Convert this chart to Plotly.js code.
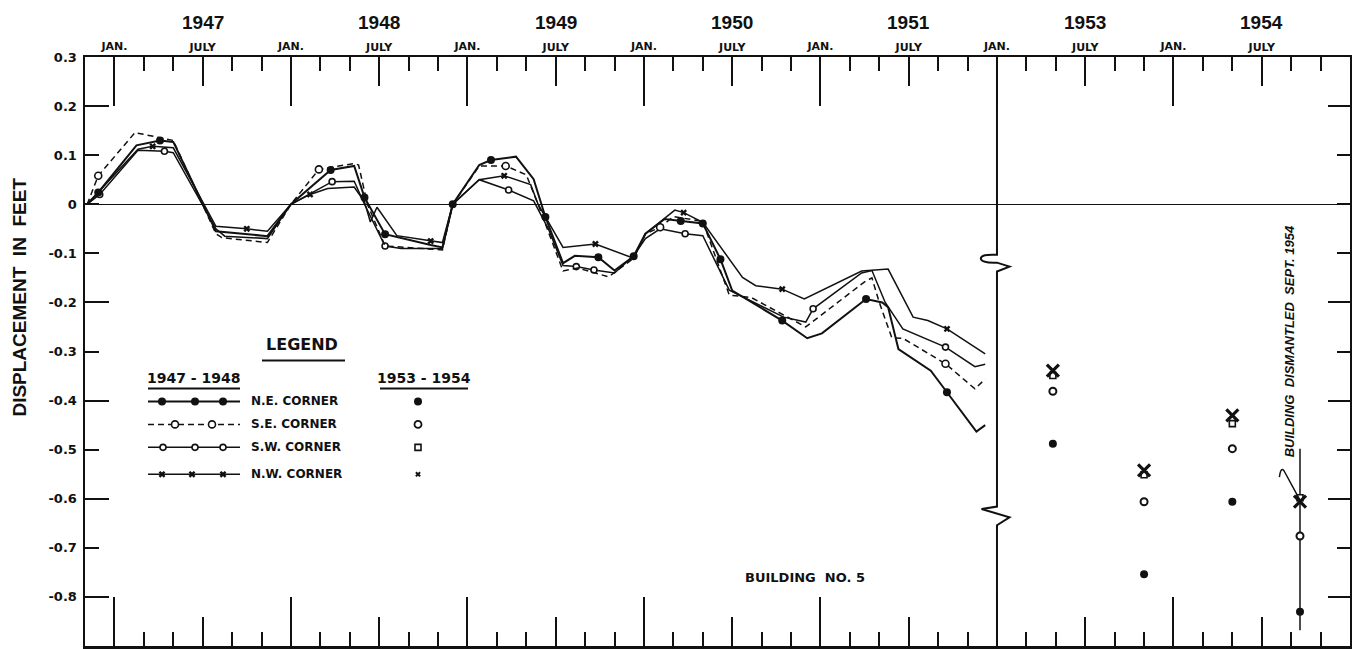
<!DOCTYPE html>
<html>
<head>
<meta charset="utf-8">
<script src="https://cdn.plot.ly/plotly-3.0.1.min.js"></script>
<style>html,body{margin:0;padding:0;background:#fff;}#chart{width:1352px;height:649px;}</style>
</head>
<body>
<div id="chart"></div>
<script>
// ---------- DATA (months since Jan 1947; value = displacement in feet) ----------
const neMonths = [-1.85,-1.1,1.5,3.1,4.0,6.9,10.4,12.0,14.7,16.3,17.0,18.4,21.5,22.3,23.0,24.8,25.6,27.3,28.5,29.3,30.5,31.3,32.9,34.0,35.3,36.1,37.4,38.5,40.0,41.2,42.0,45.4,47.1,48.1,51.1,52.2,52.6,53.3,55.5,56.6,58.6,59.2];
const neValues = [0,0.024,0.12,0.13,0.127,-0.055,-0.065,0,0.07,0.078,0.014,-0.061,-0.083,-0.088,0,0.08,0.09,0.097,0.051,-0.026,-0.12,-0.105,-0.108,-0.135,-0.106,-0.06,-0.03,-0.034,-0.039,-0.112,-0.176,-0.237,-0.273,-0.263,-0.193,-0.2,-0.21,-0.295,-0.339,-0.383,-0.463,-0.45];
const neMarked = [-1.1,3.1,14.7,17.0,18.4,23.0,25.6,29.3,32.9,35.3,38.5,40.0,41.2,45.4,51.1,56.6];

const seMonths = [-1.85,-1.1,1.4,3.0,4.0,6.9,7.3,10.4,12.0,13.9,16.3,16.6,17.2,18.4,22.3,23.0,24.8,26.6,28.0,28.8,30.5,31.5,33.6,35.3,36.1,37.1,38.0,40.0,41.8,43.3,47.0,51.0,51.5,52.0,52.85,53.6,56.5,58.5,59.2];
const seValues = [0,0.058,0.146,0.136,0.13,-0.06,-0.068,-0.078,0,0.071,0.083,0.08,0.0,-0.085,-0.093,0,0.078,0.078,0.06,0,-0.136,-0.13,-0.148,-0.11,-0.06,-0.047,-0.025,-0.035,-0.185,-0.19,-0.25,-0.158,-0.15,-0.2,-0.272,-0.273,-0.325,-0.376,-0.356];
const seMarked = [-1.1,13.9,26.6,37.1,56.5];

const swMonths = [-1.85,-1.0,1.6,3.4,4.0,6.9,7.5,10.4,12.0,14.8,16.3,17.0,18.4,19.5,22.3,23.0,24.8,26.8,28.5,29.5,30.5,31.4,32.6,34.0,35.3,36.1,37.1,38.8,40.0,41.8,45.5,47.0,47.5,50.8,51.5,52.4,53.6,56.5,58.5,59.2];
const swValues = [0,0.02,0.11,0.108,0.105,-0.05,-0.065,-0.07,0,0.046,0.047,0,-0.085,-0.09,-0.09,0,0.05,0.029,0.007,-0.05,-0.125,-0.127,-0.134,-0.14,-0.105,-0.07,-0.05,-0.06,-0.064,-0.175,-0.23,-0.24,-0.213,-0.14,-0.135,-0.2,-0.254,-0.291,-0.331,-0.326];
const swMarked = [-1.0,3.4,14.8,18.4,26.8,31.4,32.6,38.8,47.5,56.5];

const nwMonths = [-1.85,1.6,2.6,4.0,6.9,9.0,10.4,12.0,13.3,14.5,16.3,17.0,17.4,17.85,19.2,21.5,22.3,23.0,24.8,26.5,28.3,28.8,30.5,32.7,34.5,35.3,36.1,38.1,38.7,40.0,42.7,43.6,45.4,46.9,50.8,52.6,54.3,55.3,56.6,59.2];
const nwValues = [0,0.112,0.118,0.115,-0.045,-0.05,-0.055,0,0.02,0.032,0.035,0.005,-0.036,-0.006,-0.064,-0.075,-0.078,0,0.05,0.058,0.04,0,-0.088,-0.081,-0.1,-0.11,-0.06,-0.012,-0.017,-0.037,-0.149,-0.166,-0.173,-0.193,-0.136,-0.132,-0.23,-0.237,-0.254,-0.305];
const nwMarked = [2.6,9.0,13.3,21.5,26.5,32.7,38.7,45.4,56.6];

// 1953-1954 survey points (actual months since Jan 1947)
const months5354 = [75.8, 82.0, 88.0, 92.6];
const ne5354 = [-0.488,-0.754,-0.606,-0.83];
const se5354 = [-0.381,-0.606,-0.498,-0.676];
const sw5354 = [-0.349,-0.551,-0.447,-0.598];
const nw5354 = [-0.339,-0.542,-0.43,-0.606];

const yearLabels = [1947,1948,1949,1950,1951,1953,1954];
const yTickVals = [0.3,0.2,0.1,0,-0.1,-0.2,-0.3,-0.4,-0.5,-0.6,-0.7,-0.8,-0.9];
const yTickText = ["0.3","0.2","0.1","0","-0.1","-0.2","-0.3","-0.4","-0.5","-0.6","-0.7","-0.8","-0.9"];
const cornerNames = ["N.E. CORNER","S.E. CORNER","S.W. CORNER","N.W. CORNER"];

// ---------- helpers ----------
const GAP = 12;             // year 1952 omitted from the axis
const plotX = m => (m >= 72 ? m - GAP : m);
const INK = '#111';
const X_RANGE = [-2, 84];
const Y_RANGE = [-0.9, 0.3];
const janTicks = [], julTicks = [];
for (let m = 0; m < 84; m += 12) { janTicks.push(m); julTicks.push(m + 6); }
const longY = [0.2,-0.2,-0.4,-0.6,-0.8];

const styles = {
  ne: {line:{color:INK,width:2}, marker:{symbol:'circle',size:8,color:INK,line:{width:0}}},
  se: {line:{color:INK,width:1.5,dash:'6px,4px'}, marker:{symbol:'circle',size:7,color:'#fff',line:{width:1.6,color:INK}}},
  sw: {line:{color:INK,width:1.5}, marker:{symbol:'circle',size:6,color:'#fff',line:{width:1.6,color:INK}}},
  nw: {line:{color:INK,width:1.5}, marker:{symbol:'x',size:6,color:INK,line:{width:0}}}
};

function series(months, values, marked, st) {
  const on = months.map(m => marked.includes(m));
  return {
    x: months.map(plotX), y: values, type:'scatter', mode:'lines+markers',
    line: st.line,
    marker: Object.assign({}, st.marker, {
      size: on.map(b => b ? st.marker.size : 0),
      opacity: on.map(b => b ? 1 : 0)
    }),
    hoverinfo:'skip', showlegend:false, cliponaxis:false
  };
}

const traces = [
  series(swMonths, swValues, swMarked, styles.sw),
  series(nwMonths, nwValues, nwMarked, styles.nw),
  series(seMonths, seValues, seMarked, styles.se),
  series(neMonths, neValues, neMarked, styles.ne)
];

// empty traces so that the overlay tick axes get drawn
[['x2','y2'],['x3','y3'],['x4','y4']].forEach(p => traces.push({x:[null], y:[null], xaxis:p[0], yaxis:p[1], mode:'markers', showlegend:false, hoverinfo:'skip'}));

// 1953-54 points
const x5354 = months5354.map(plotX);
const lastX = x5354[x5354.length-1];
const lastVals = [ne5354, se5354, sw5354, nw5354].map(a => a[a.length-1]);
traces.push({x:[lastX,lastX], y:[Math.max(...lastVals)+0.1, Math.min(...lastVals)-0.038], mode:'lines',
  line:{color:INK,width:1.5}, hoverinfo:'skip', showlegend:false});
traces.push({x:x5354, y:ne5354, mode:'markers', marker:{symbol:'circle',size:8,color:INK}, showlegend:false, hoverinfo:'skip'});
traces.push({x:x5354, y:se5354, mode:'markers', marker:{symbol:'circle',size:7,color:'#fff',line:{width:2,color:INK}}, showlegend:false, hoverinfo:'skip'});
traces.push({x:x5354, y:sw5354, mode:'markers', marker:{symbol:'square',size:6,color:'#fff',line:{width:1.6,color:INK}}, showlegend:false, hoverinfo:'skip'});
traces.push({x:x5354, y:nw5354, mode:'markers', marker:{symbol:'x-thin-open',size:12,color:INK,line:{width:3.2,color:INK}}, showlegend:false, hoverinfo:'skip'});

// ---------- legend drawn in pixel space (overlay axes x5/y5) ----------
const LEG = { lineX:[148,240], rows:[402,425,448,475], textX:249, ptX:418 };
const legMarkX = {
  ne:[162,195,223], se:[175,212], sw:[163,195,223], nw:[162,192,223]
};
['ne','se','sw','nw'].forEach((k,i) => {
  const y = LEG.rows[i];
  traces.push({x:LEG.lineX, y:[y,y], xaxis:'x5', yaxis:'y5', mode:'lines', line:styles[k].line, showlegend:false, hoverinfo:'skip'});
  traces.push({x:legMarkX[k], y:legMarkX[k].map(()=>y), xaxis:'x5', yaxis:'y5', mode:'markers', marker:styles[k].marker, showlegend:false, hoverinfo:'skip'});
});
const legPtMarkers = [
  {symbol:'circle',size:8,color:INK},
  {symbol:'circle',size:7,color:'#fff',line:{width:1.8,color:INK}},
  {symbol:'square',size:6,color:'#fff',line:{width:1.6,color:INK}},
  {symbol:'x',size:5,color:INK}
];
legPtMarkers.forEach((mk,i) => traces.push({x:[LEG.ptX], y:[LEG.rows[i]], xaxis:'x5', yaxis:'y5', mode:'markers', marker:mk, showlegend:false, hoverinfo:'skip'}));

// ---------- axes ----------
const tickFont = {family:'DejaVu Sans', size:11, color:INK, weight:'bold'};
const baseX = {range:X_RANGE, autorange:false, showgrid:false, zeroline:false, fixedrange:true, color:INK, linecolor:INK, linewidth:2.5, tickcolor:INK, tickwidth:2};
const baseY = {range:Y_RANGE, autorange:false, showgrid:false, zeroline:false, fixedrange:true, color:INK, linecolor:INK, linewidth:2.5, tickcolor:INK, tickwidth:2};

const layout = {
  width:1352, height:649,
  margin:{l:85, r:2, t:57, b:3},
  paper_bgcolor:'#fff', plot_bgcolor:'#fff',
  showlegend:false,
  font:{family:'DejaVu Sans', color:INK},
  xaxis: Object.assign({}, baseX, {side:'bottom', showline:true, ticks:'inside', tickmode:'array', tickvals:janTicks, ticklen:49, showticklabels:false,
          minor:{ticks:'inside', tick0:0, dtick:2, ticklen:14, tickwidth:2, tickcolor:INK}}),
  xaxis2: Object.assign({}, baseX, {overlaying:'x', side:'bottom', anchor:'y', showline:false, ticks:'inside', tickmode:'array', tickvals:julTicks, ticklen:29, showticklabels:false}),
  xaxis3: Object.assign({}, baseX, {overlaying:'x', side:'top', anchor:'y', showline:true, ticks:'inside', tickmode:'array', tickvals:janTicks, ticktext:janTicks.map(()=> 'JAN.'), ticklen:49,
          tickfont:tickFont, ticklabelstandoff:0,
          minor:{ticks:'inside', tick0:0, dtick:2, ticklen:14, tickwidth:2, tickcolor:INK}}),
  xaxis4: Object.assign({}, baseX, {overlaying:'x', side:'top', anchor:'y', showline:false, ticks:'inside', tickmode:'array', tickvals:julTicks, ticktext:julTicks.map(()=> 'JULY'), ticklen:29,
          tickfont:tickFont, ticklabelstandoff:3}),
  xaxis5: {overlaying:'x', range:[85,1350], autorange:false, visible:false, fixedrange:true},
  yaxis: Object.assign({}, baseY, {side:'left', showline:true, zeroline:true, zerolinecolor:INK, zerolinewidth:1.5, ticks:'inside', tickmode:'array', tickvals:yTickVals, ticktext:yTickText, ticklen:14,
          tickfont:{family:'DejaVu Sans', size:13, color:INK, weight:'bold'}, ticklabelstandoff:3}),
  yaxis2: Object.assign({}, baseY, {overlaying:'y', side:'left', anchor:'x', showline:false, ticks:'inside', tickmode:'array', tickvals:longY, ticklen:24, showticklabels:false}),
  yaxis3: Object.assign({}, baseY, {overlaying:'y', side:'right', anchor:'x', showline:true, ticks:'inside', tickmode:'array', tickvals:yTickVals, ticklen:13, showticklabels:false}),
  yaxis4: Object.assign({}, baseY, {overlaying:'y', side:'right', anchor:'x', showline:false, ticks:'inside', tickmode:'array', tickvals:longY, ticklen:22, showticklabels:false}),
  yaxis5: {overlaying:'y', range:[647,57], autorange:false, visible:false, fixedrange:true},
  annotations: [],
  shapes: []
};

// year labels above July
yearLabels.forEach(yr => {
  layout.annotations.push({x: plotX((yr-1947)*12 + 6), xref:'x', y:1, yref:'paper', yshift:35, yanchor:'middle', xanchor:'center',
    text:String(yr), showarrow:false, font:{family:'Liberation Sans', size:19, color:INK, weight:'bold'}});
});

// y axis title (paper coordinates, left of the plot area)
layout.annotations.push({x:(20-85)/1265, xref:'paper', y:(647-298)/590, yref:'paper', textangle:-90, text:'DISPLACEMENT  IN  FEET', showarrow:false,
  xanchor:'center', yanchor:'middle', font:{family:'Liberation Sans', size:19, color:INK, weight:'bold'}});

// legend texts
layout.annotations.push({x:302, y:345, xref:'x5', yref:'y5', text:'LEGEND', showarrow:false, font:{family:'DejaVu Sans', size:16, color:INK, weight:'bold'}});
layout.annotations.push({x:194, y:379, xref:'x5', yref:'y5', text:'1947 - 1948', showarrow:false, font:{family:'DejaVu Sans', size:14, color:INK, weight:'bold'}});
layout.annotations.push({x:424, y:379, xref:'x5', yref:'y5', text:'1953 - 1954', showarrow:false, font:{family:'DejaVu Sans', size:14, color:INK, weight:'bold'}});
cornerNames.forEach((n,i) => layout.annotations.push({x:LEG.textX, y:LEG.rows[i], xref:'x5', yref:'y5', xanchor:'left', text:n, showarrow:false,
  font:{family:'DejaVu Sans', size:12, color:INK, weight:'bold'}}));
[[262,345,361],[148,240,389],[380,468,389]].forEach(u => layout.shapes.push({type:'line', xref:'x5', yref:'y5', x0:u[0], x1:u[1], y0:u[2], y1:u[2], line:{color:INK,width:2}}));

// building label
layout.annotations.push({x:805, y:578, xref:'x5', yref:'y5', text:'BUILDING  NO. 5', showarrow:false, font:{family:'DejaVu Sans', size:13, color:INK, weight:'bold'}});

// dismantled note
layout.annotations.push({x:lastX - 0.7, y:-0.28, xref:'x', yref:'y', textangle:-90, text:'<i>BUILDING  DISMANTLED  SEPT. 1954</i>', showarrow:false,
  font:{family:'Liberation Sans', size:13, color:INK, weight:'bold'}});
layout.shapes.push({type:'path', xref:'x', yref:'y', line:{color:INK,width:1.5},
  path:`M ${lastX-1.4},-0.556 Q ${lastX-1.3},-0.532 ${lastX-1.05},-0.545 L ${lastX},-0.603`});

// axis break at Jan 1953 (1952 omitted)
const bx = plotX(72);
layout.shapes.push({type:'path', xref:'x', yref:'y', line:{color:INK,width:2},
  path:`M ${bx},0.3 L ${bx},-0.103 Q ${bx-1.1},-0.101 ${bx-1.1},-0.111 Q ${bx-1.05},-0.12 ${bx},-0.119 L ${bx+0.85},-0.127 L ${bx},-0.137 L ${bx},-0.616 L ${bx-1.05},-0.621 L ${bx+0.85},-0.638 L ${bx},-0.654 L ${bx},-0.9`});

Plotly.newPlot('chart', traces, layout, {staticPlot:true, displayModeBar:false});
</script>
</body>
</html>
